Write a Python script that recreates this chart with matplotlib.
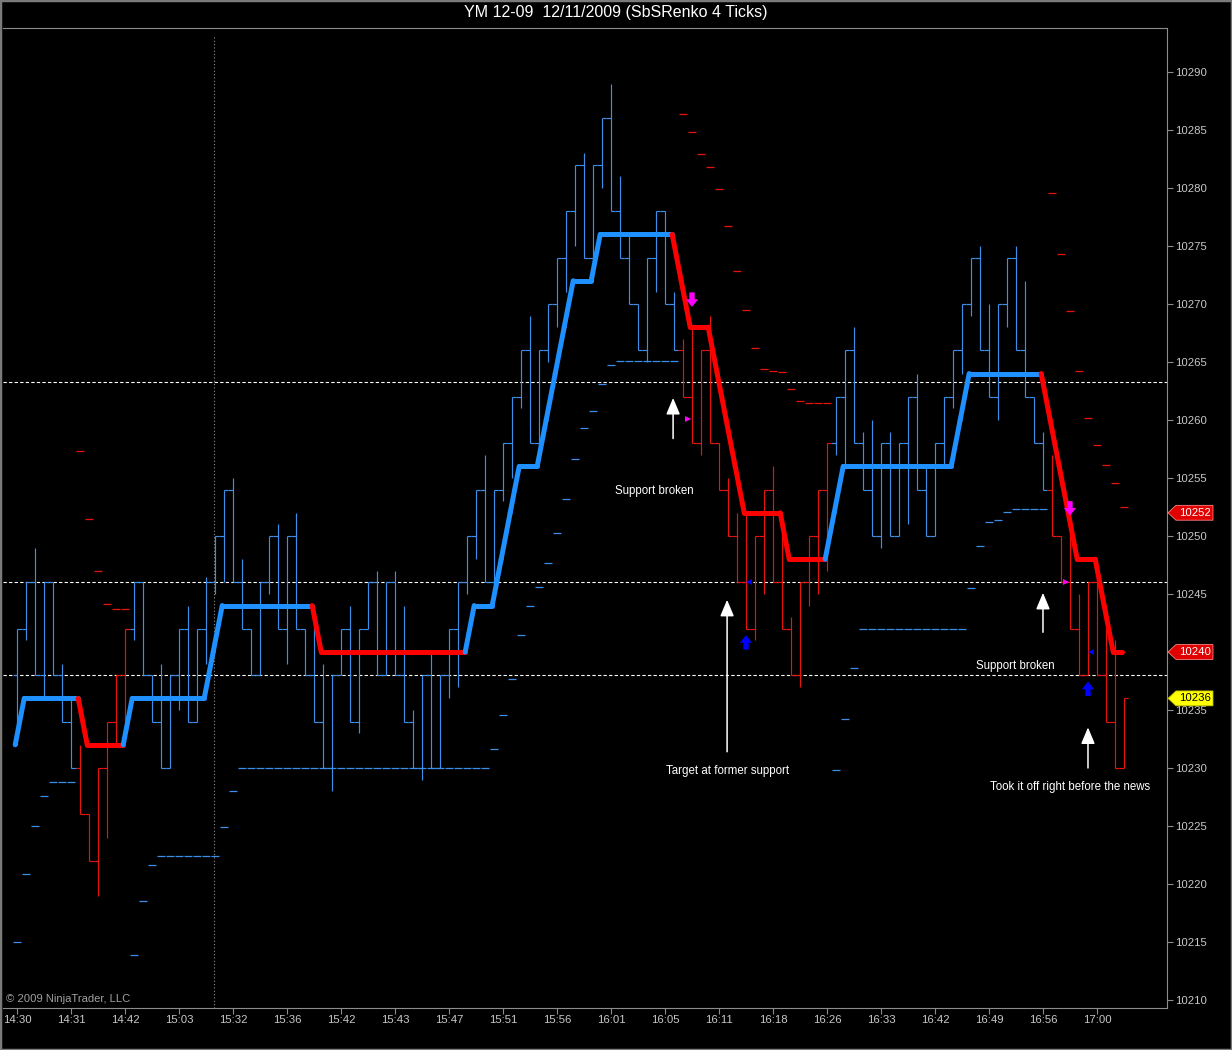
import matplotlib
matplotlib.use("Agg")
import matplotlib.pyplot as plt
from matplotlib.collections import LineCollection
from matplotlib.patches import Polygon, Rectangle
from matplotlib.transforms import blended_transform_factory

plt.rcParams['font.family'] = ['Liberation Sans', 'DejaVu Sans']

# --- data (one entry per renko bar) ---
first_open = 10238
closes = [10242, 10246, 10238, 10246, 10238, 10234, 10230, 10226, 10222, 10230,
          10234, 10238, 10242, 10246, 10238, 10234, 10230, 10238, 10242, 10234,
          10242, 10246, 10250, 10254, 10246, 10242, 10238, 10246, 10250, 10242,
          10250, 10242, 10238, 10234, 10230, 10238, 10242, 10234, 10242, 10246,
          10238, 10246, 10238, 10234, 10230, 10238, 10230, 10238, 10242, 10246,
          10250, 10254, 10246, 10254, 10258, 10262, 10266, 10258, 10266, 10270,
          10274, 10278, 10282, 10274, 10282, 10286, 10278, 10274, 10270, 10266,
          10274, 10278, 10270, 10266, 10262, 10258, 10266, 10258, 10254, 10250,
          10246, 10242, 10250, 10254, 10246, 10242, 10238, 10246, 10250, 10254,
          10258, 10262, 10266, 10258, 10254, 10250, 10258, 10250, 10258, 10262,
          10254, 10250, 10258, 10262, 10266, 10270, 10274, 10266, 10262, 10270,
          10274, 10266, 10262, 10258, 10254, 10250, 10246, 10242, 10238, 10246,
          10238, 10234, 10230, 10236]
highs = [10242, 10246, 10249, 10246, 10246, 10239, 10236, 10232, 10226, 10230,
         10234, 10238, 10242, 10246, 10246, 10238, 10239, 10238, 10242, 10244,
         10242, 10246.5, 10250, 10254, 10255, 10248, 10242, 10246, 10250, 10251,
         10250, 10252, 10242, 10244, 10239, 10238, 10242, 10244, 10242, 10246,
         10247, 10246, 10247, 10244, 10235, 10238, 10240, 10238, 10242, 10246,
         10250, 10254, 10257, 10254, 10258, 10262, 10266, 10269, 10266, 10270,
         10274, 10278, 10282, 10283, 10282, 10286, 10289, 10281, 10276, 10270,
         10274, 10278, 10278, 10271, 10267, 10268, 10266, 10269, 10258, 10255,
         10252, 10252, 10250, 10254, 10256, 10252, 10243, 10246, 10250, 10254,
         10258, 10262, 10266, 10268, 10259, 10260, 10258, 10259, 10258, 10262,
         10264, 10256, 10258, 10262, 10266, 10270, 10274, 10275, 10270, 10270,
         10274, 10275, 10272, 10262, 10259, 10257, 10250, 10253, 10245, 10246,
         10248, 10242, 10241, 10236]
lows = [10232, 10241, 10238, 10236, 10238, 10234, 10230, 10226, 10222, 10219,
        10224, 10232, 10234, 10241, 10238, 10234, 10230, 10230, 10235, 10234,
        10234, 10239, 10245, 10246, 10246, 10242, 10238, 10238, 10245, 10242,
        10239, 10242, 10238, 10234, 10230, 10228, 10238, 10234, 10233, 10242,
        10238, 10238, 10238, 10234, 10230, 10229, 10230, 10230, 10236, 10237,
        10245, 10248, 10246, 10246, 10253, 10255, 10261, 10258, 10257, 10265,
        10268, 10271, 10275, 10274, 10272, 10280, 10278, 10274, 10270, 10266,
        10265, 10271, 10270, 10266, 10262, 10258, 10257, 10258, 10254, 10250,
        10246, 10242, 10241, 10245, 10246, 10242, 10238, 10237, 10244, 10245,
        10247, 10257, 10256, 10258, 10254, 10250, 10249, 10250, 10250, 10251,
        10254, 10250, 10250, 10256, 10261, 10264, 10269, 10266, 10262, 10260,
        10268, 10266, 10262, 10258, 10254, 10250, 10246, 10242, 10238, 10238,
        10238, 10234, 10230, 10230]
red_bar_ranges = [(7, 12), (74, 90), (115, 123)]

trend_line = ([10232] + [10236] * 7 + [10232] * 5 + [10236] * 9 + [10240]
              + [10244] * 11 + [10240] * 17 + [10244] * 3 + [10248, 10252]
              + [10256] * 3 + [10260, 10264, 10268] + [10272] * 3 + [10276] * 9
              + [10272] + [10268] * 3 + [10264, 10260, 10256] + [10252] * 5
              + [10248] * 5 + [10252] + [10256] * 13 + [10260] + [10264] * 9
              + [10260, 10256, 10252] + [10248] * 3 + [10244] + [10240] * 2)

stops = ([10215, 10220.9, 10225, 10227.6] + [10228.8] * 3
         + [10257.3, 10251.5, 10247, 10244.1, 10243.7, 10243.7]
         + [10213.9, 10218.5, 10221.6] + [10222.4] * 7
         + [10224.9, 10228] + [10230] * 28
         + [10231.6, 10234.6, 10237.7, 10241.5, 10244, 10245.6, 10247.7, 10250.3,
            10253.2, 10256.6, 10259.3, 10260.8, 10263.1, 10264.7] + [10265.1] * 7
         + [10286.4, 10284.8, 10282.9, 10281.8, 10279.9, 10276.7, 10272.8, 10269.5,
            10266.2, 10264.4, 10264.25, 10264.1, 10262.7, 10261.6] + [10261.5] * 3
         + [10229.8, 10234.2, 10238.6] + [10242] * 12
         + [10245.5, 10249.1, 10251.2, 10251.4, 10252.1] + [10252.3] * 4
         + [10279.6, 10274.3, 10269.4, 10264.2, 10260.2, 10257.8, 10256.1, 10254.6, 10252.5])

support_lines = [10263.3, 10246, 10238]
session_break = 21.9

tick_bars = list(range(0, 121, 6))
tick_labels = ["14:30", "14:31", "14:42", "15:03", "15:32", "15:36", "15:42", "15:43",
               "15:47", "15:51", "15:56", "16:01", "16:05", "16:11", "16:18", "16:26",
               "16:33", "16:42", "16:49", "16:56", "17:00"]
y_ticks = list(range(10210, 10291, 5))

# signals: (bar, price)
sell_arrows = [(75, 10271.0), (117, 10253.0)]
sell_marks = [(74.55, 10260.1), (116.55, 10246)]
buy_marks = [(81.3, 10246), (119.3, 10240)]
buy_arrows = [(81, 10240.2), (119, 10236.2)]

# notes: (bar, tip price, tail price)
white_arrows = [(72.9, 10261.9, 10258.4), (78.9, 10244.5, 10231.4),
                (114.0, 10245.1, 10241.7), (119.0, 10233.5, 10230.0)]
notes = [(70.8, 10253.9, "Support broken"), (78.9, 10229.7, "Target at former support"),
         (110.9, 10238.8, "Support broken"), (117.0, 10228.4, "Took it off right before the news")]

price_tags = [(10252, "#e00000", "white"), (10240, "#e00000", "white"), (10236, "#ffff00", "black")]

BLUE_BAR = "#3d8ee8"
RED_BAR = "#e8140c"
BLUE_LINE = "#1e90ff"
RED_LINE = "#ff0000"

n = len(closes)
opens = [first_open] + closes[:-1]


def is_red(i):
    return any(a <= i <= b for a, b in red_bar_ranges)


fig = plt.figure(figsize=(12.32, 10.5), dpi=100, facecolor="black")
ax = fig.add_axes([3 / 1232, 1 - 1008 / 1050, 1164 / 1232, 980 / 1050])
ax.set_facecolor("black")
ax.set_xlim(-1.556, 127.78)
ax.set_ylim(10209.31, 10293.79)

for p in support_lines:
    ax.axhline(p, color="white", lw=0.8, ls=(0, (3, 2)), zorder=1)
ax.plot([session_break, session_break], [10209.31, 10293.1], color="#909090", lw=0.8,
        ls=(0, (1, 2)), zorder=1)

# bars
segs, cols = [], []
for i in range(n):
    c = RED_BAR if is_red(i) else BLUE_BAR
    segs.append([(i, lows[i]), (i, highs[i])])
    segs.append([(i - 0.5, opens[i]), (i, opens[i])])
    segs.append([(i, closes[i]), (i + 0.5, closes[i])])
    cols += [c, c, c]
ax.add_collection(LineCollection(segs, colors=cols, linewidths=0.85, zorder=2))

# stop dashes
dsegs = [[(i - 0.43, stops[i]), (i + 0.43, stops[i])] for i in range(n)]
dcols = [RED_BAR if is_red(i) else BLUE_BAR for i in range(n)]
ax.add_collection(LineCollection(dsegs, colors=dcols, linewidths=0.9, zorder=2))

# trend line coloured by its last direction
tsegs, tcols = [], []
direction = 1
for i in range(1, n):
    d = trend_line[i] - trend_line[i - 1]
    if d != 0:
        direction = 1 if d > 0 else -1
    tsegs.append([(i - 1.2, trend_line[i - 1]), (i - 0.2, trend_line[i])])
    tcols.append(BLUE_LINE if direction > 0 else RED_LINE)
ax.add_collection(LineCollection(tsegs, colors=tcols, linewidths=3.6,
                                 capstyle="round", joinstyle="round", zorder=4))

# signal markers
arrow_style = "simple,head_width=0.8,head_length=0.5,tail_width=0.35"
for x, y in sell_arrows:
    ax.annotate("", xy=(x, y - 1.25), xytext=(x, y),
                arrowprops=dict(arrowstyle=arrow_style, color="#ff00ff", lw=0,
                                mutation_scale=11, shrinkA=0, shrinkB=0), zorder=5)
for x, y in buy_arrows:
    ax.annotate("", xy=(x, y + 1.25), xytext=(x, y),
                arrowprops=dict(arrowstyle=arrow_style, color="#0000ff", lw=0,
                                mutation_scale=11, shrinkA=0, shrinkB=0), zorder=5)
ax.plot([m[0] for m in sell_marks], [m[1] for m in sell_marks], ">", color="#ff00ff", ms=4.5, mew=0, zorder=5)
ax.plot([m[0] for m in buy_marks], [m[1] for m in buy_marks], "<", color="#0000ff", ms=4.5, mew=0, zorder=5)

for x, tip, tail in white_arrows:
    ax.annotate("", xy=(x, tip), xytext=(x, tail),
                arrowprops=dict(arrowstyle="-|>,head_width=0.42,head_length=1.0",
                                color="white", lw=1.1, shrinkA=0, shrinkB=0), zorder=5)
for x, y, t in notes:
    ax.text(x, y, t, color="white", fontsize=8.3, ha="center", va="center", zorder=5)

# axes styling
ax.spines["left"].set_visible(False)
for side in ["right", "bottom", "top"]:
    ax.spines[side].set_color("#8c8c8c")
ax.yaxis.tick_right()
ax.set_yticks(y_ticks)
# the 10240 label sits under the price tag in the original
ax.set_yticklabels(["" if v == 10240 else str(v) for v in y_ticks])
ax.set_xticks(tick_bars)
ax.set_xticklabels(tick_labels)
ax.tick_params(axis="both", colors="#8c8c8c", labelcolor="#c8c8c8", labelsize=8.2, length=4, width=0.8)
ax.tick_params(axis="x", pad=1)
ax.tick_params(axis="y", pad=2)

# price tags on the right axis
trans = blended_transform_factory(ax.transAxes, ax.transData)
for p, fc, tc in price_tags:
    h = 0.64
    poly = Polygon([(1.0009, p), (1.0077, p + h), (1.0395, p + h), (1.0395, p - h), (1.0077, p - h)],
                   closed=True, transform=trans, facecolor=fc,
                   edgecolor="#ff8080" if tc == "white" else "#c0c000",
                   lw=0.6, clip_on=False, zorder=6)
    ax.add_patch(poly)
    ax.text(1.0238, p, str(p), transform=trans, color=tc, fontsize=8.2, ha="center", va="center",
            clip_on=False, zorder=7)

ax.text(0.003, 10210.1, "\u00a9 2009 NinjaTrader, LLC", color="#a0a0a0", fontsize=8.1,
        ha="left", va="center", transform=trans)

fig.text(0.5, 1 - 13 / 1050, "YM 12-09  12/11/2009 (SbSRenko 4 Ticks)", color="white",
         fontsize=11.5, ha="center", va="center")
fig.patches.append(Rectangle((0, 0), 1, 1, transform=fig.transFigure, fill=False,
                             edgecolor="#7a7a7a", lw=2.5))

fig.savefig("out.png", dpi=100, facecolor="black")
